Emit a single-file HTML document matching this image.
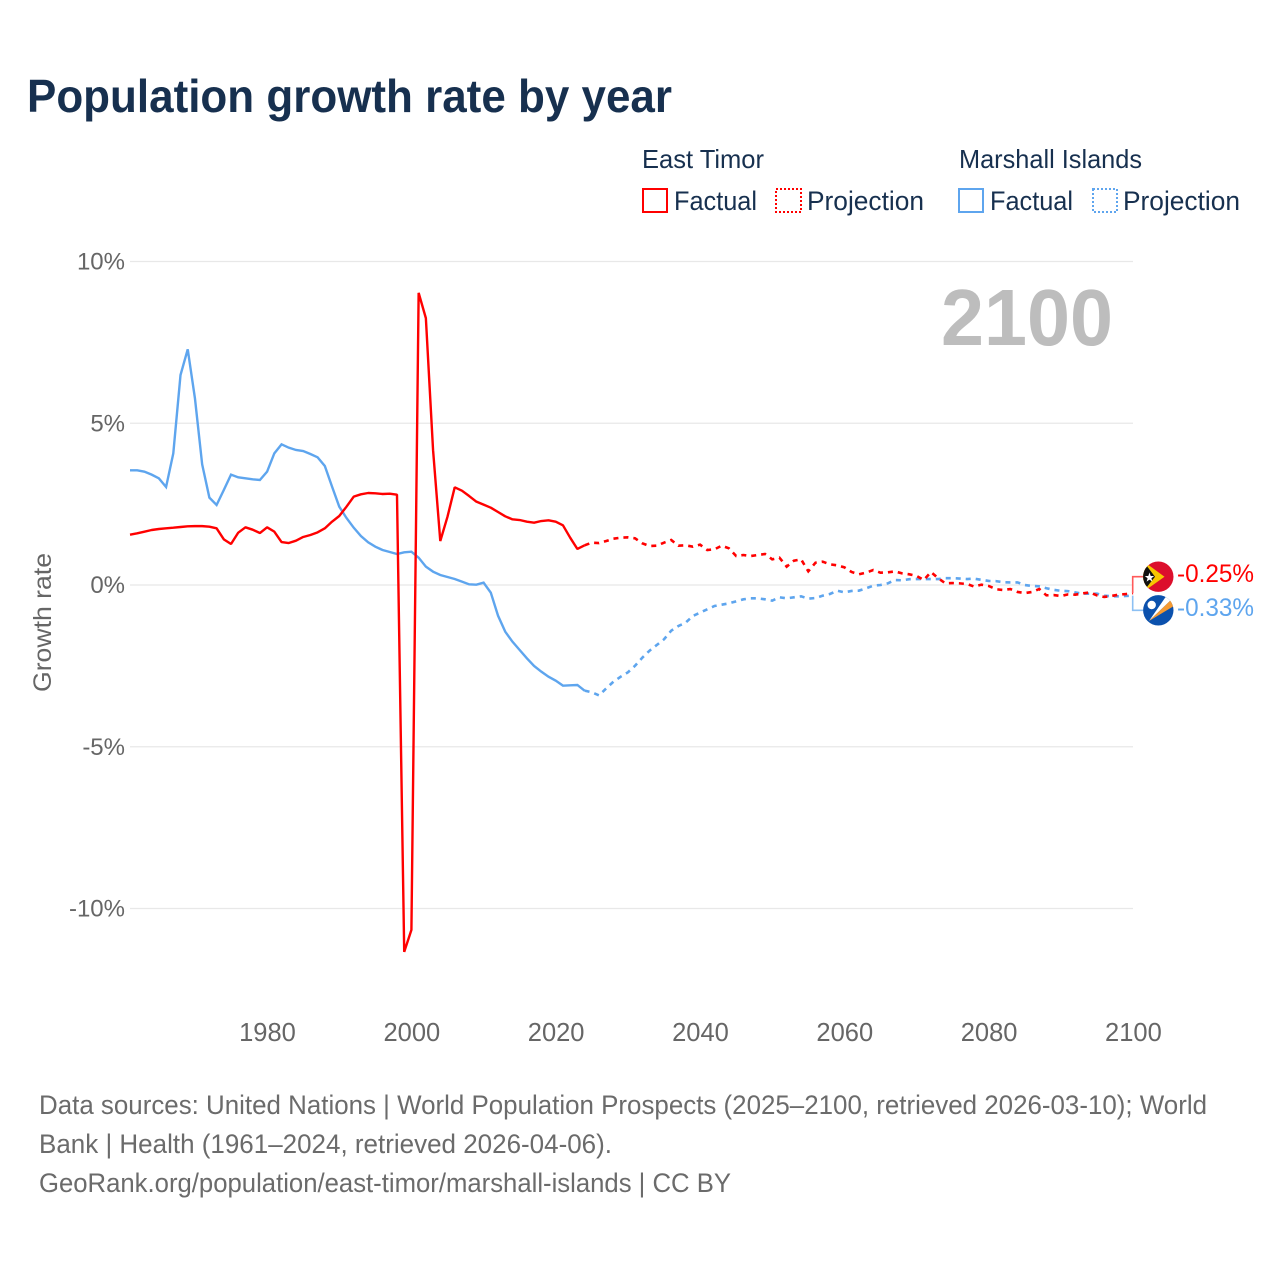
<!DOCTYPE html>
<html lang="en">
<head>
<meta charset="utf-8">
<title>Population growth rate by year</title>
<style>
html,body{margin:0;padding:0;background:#fff;}
svg{display:block;}
text{font-family:"Liberation Sans",sans-serif;}
</style>
</head>
<body>
<svg id="chart" width="1280" height="1280" viewBox="0 0 1280 1280" xmlns="http://www.w3.org/2000/svg">
  <rect x="0" y="0" width="1280" height="1280" fill="#fff"/>
  <text x="27" y="112" font-size="46" font-weight="bold" fill="#17304f" textLength="645" lengthAdjust="spacingAndGlyphs">Population growth rate by year</text>

  <g>
    <text x="642" y="168" font-size="26" fill="#17304f" textLength="122" lengthAdjust="spacingAndGlyphs">East Timor</text>
    <text x="959" y="168" font-size="26" fill="#17304f" textLength="183" lengthAdjust="spacingAndGlyphs">Marshall Islands</text>
    <rect x="643" y="189" width="24" height="23" fill="none" stroke="#ff0000" stroke-width="2"/>
    <text x="674" y="210" font-size="27" fill="#17304f" textLength="83" lengthAdjust="spacingAndGlyphs">Factual</text>
    <rect x="776" y="189" width="25" height="23" fill="none" stroke="#ff0000" stroke-width="2" stroke-dasharray="2 2"/>
    <text x="807" y="210" font-size="27" fill="#17304f" textLength="117" lengthAdjust="spacingAndGlyphs">Projection</text>
    <rect x="959" y="189" width="24" height="23" fill="none" stroke="#5ea5ee" stroke-width="2"/>
    <text x="990" y="210" font-size="27" fill="#17304f" textLength="83" lengthAdjust="spacingAndGlyphs">Factual</text>
    <rect x="1093" y="189" width="24" height="23" fill="none" stroke="#5ea5ee" stroke-width="2" stroke-dasharray="2 2"/>
    <text x="1123" y="210" font-size="27" fill="#17304f" textLength="117" lengthAdjust="spacingAndGlyphs">Projection</text>
  </g>

  <g id="grid"></g>
  <g id="yticks"></g>
  <g id="xticks"></g>
  <text transform="translate(51 692) rotate(-90)" x="0" y="0" font-size="25" fill="#666" textLength="139" lengthAdjust="spacingAndGlyphs">Growth rate</text>
  <text x="941" y="345" font-size="80" font-weight="bold" fill="#bdbdbd" textLength="172" lengthAdjust="spacingAndGlyphs">2100</text>

  <g id="series"></g>

  <defs>
    <clipPath id="clip-timor"><circle cx="1158.3" cy="576.7" r="15.2"/></clipPath>
    <clipPath id="clip-marshall"><circle cx="1158.3" cy="610.3" r="15.2"/></clipPath>
  </defs>
  <g clip-path="url(#clip-timor)">
    <rect x="1143" y="561" width="31" height="31" fill="#dc0f2c"/>
    <polygon points="1143,561 1164.5,576.7 1143,592" fill="#f7c600"/>
    <polygon points="1143,561 1155,576.7 1143,592" fill="#111"/>
    <polygon points="1149.5,572.5 1150.7,576 1154.2,576 1151.4,578.2 1152.4,581.6 1149.5,579.6 1146.6,581.6 1147.6,578.2 1144.8,576 1148.3,576" fill="#fff"/>
  </g>
  <g clip-path="url(#clip-marshall)">
    <rect x="1143" y="595" width="31" height="31" fill="#0b51ad"/>
    <polygon points="1149,621 1167,595 1172,599" fill="#fff"/>
    <polygon points="1149,621 1172,599 1174,606" fill="#f59a32"/>
    <circle cx="1151.7" cy="605" r="4.2" fill="#fff"/>
  </g>
  <g id="end-labels"></g>

  <g>
    <text x="39" y="1114" font-size="26.5" fill="#6b6b6b" textLength="1168" lengthAdjust="spacingAndGlyphs">Data sources: United Nations | World Population Prospects (2025–2100, retrieved 2026-03-10); World</text>
    <text x="39" y="1153" font-size="26.5" fill="#6b6b6b" textLength="573" lengthAdjust="spacingAndGlyphs">Bank | Health (1961–2024, retrieved 2026-04-06).</text>
    <text x="39" y="1192" font-size="26.5" fill="#6b6b6b" textLength="692" lengthAdjust="spacingAndGlyphs">GeoRank.org/population/east-timor/marshall-islands | CC BY</text>
  </g>
</svg>
<script>
const factualStartYear = 1961;
const projectionStartYear = 2024;
const yTickValues = [10, 5, 0, -5, -10];
const yTickLabels = ["10%", "5%", "0%", "-5%", "-10%"];
const xTickValues = [1980, 2000, 2020, 2040, 2060, 2080, 2100];
const xTickLabels = ["1980", "2000", "2020", "2040", "2060", "2080", "2100"];
const timorEndLabel = "-0.25%";
const marshallEndLabel = "-0.33%";

const timorFactual = [1.556,1.597,1.649,1.700,1.731,1.752,1.772,1.793,1.813,1.82,1.82,1.803,1.752,1.412,1.267,1.618,1.783,1.710,1.607,1.783,1.649,1.329,1.298,1.370,1.484,1.546,1.628,1.752,1.958,2.133,2.421,2.731,2.803,2.844,2.834,2.813,2.823,2.792,-11.34,-10.66,9.03,8.25,4.17,1.36,2.112,3.019,2.916,2.751,2.576,2.483,2.390,2.257,2.123,2.030,2.009,1.958,1.927,1.978,1.999,1.958,1.845,1.463,1.113,1.226];
const timorProjection = [1.226,1.309,1.298,1.360,1.432,1.463,1.473,1.443,1.288,1.206,1.216,1.309,1.391,1.216,1.226,1.185,1.247,1.082,1.103,1.216,1.134,0.896,0.927,0.896,0.927,0.958,0.793,0.845,0.567,0.752,0.793,0.423,0.690,0.721,0.639,0.608,0.546,0.402,0.330,0.381,0.464,0.38,0.39,0.42,0.36,0.33,0.28,0.155,0.40,0.21,0.05,0.06,0.05,0.03,-0.05,0.01,-0.03,-0.13,-0.155,-0.125,-0.215,-0.25,-0.215,-0.125,-0.32,-0.31,-0.34,-0.29,-0.30,-0.26,-0.23,-0.32,-0.37,-0.34,-0.30,-0.28,-0.25];
const marshallFactual = [3.545,3.545,3.503,3.411,3.297,3.029,4.070,6.491,7.285,5.770,3.730,2.700,2.473,2.937,3.411,3.328,3.297,3.266,3.246,3.503,4.070,4.348,4.245,4.173,4.142,4.049,3.947,3.679,3.040,2.421,2.071,1.772,1.515,1.319,1.185,1.082,1.020,0.958,1.010,1.030,0.845,0.567,0.412,0.309,0.247,0.185,0.103,0.021,0.010,0.072,-0.237,-0.948,-1.443,-1.752,-2.009,-2.267,-2.504,-2.679,-2.834,-2.957,-3.112,-3.101,-3.091,-3.266];
const marshallProjection = [-3.266,-3.318,-3.411,-3.194,-2.988,-2.834,-2.700,-2.494,-2.246,-2.030,-1.855,-1.680,-1.412,-1.267,-1.164,-0.958,-0.855,-0.752,-0.649,-0.608,-0.567,-0.505,-0.443,-0.412,-0.412,-0.443,-0.484,-0.381,-0.412,-0.381,-0.350,-0.423,-0.402,-0.330,-0.278,-0.175,-0.227,-0.185,-0.175,-0.103,-0.021,0,0.05,0.155,0.145,0.18,0.185,0.185,0.185,0.185,0.21,0.21,0.2,0.185,0.195,0.16,0.125,0.12,0.085,0.08,0.08,0,-0.03,-0.04,-0.1,-0.15,-0.18,-0.19,-0.23,-0.27,-0.27,-0.27,-0.33,-0.35,-0.35,-0.34,-0.33];

const SVG_NS = "http://www.w3.org/2000/svg";
const RED = "#ff0000";
const BLUE = "#5ea5ee";

function xScale(year) {
  return 130 + (year - 1961) * 7.216;
}
function yScale(value) {
  return 585 - value * 32.35;
}
function make(tag, parent, attrs) {
  const el = document.createElementNS(SVG_NS, tag);
  Object.keys(attrs).forEach(function (k) { el.setAttribute(k, attrs[k]); });
  parent.appendChild(el);
  return el;
}
function linePoints(values, startYear) {
  return values.map(function (v, i) {
    return xScale(startYear + i).toFixed(2) + "," + yScale(v).toFixed(2);
  }).join(" ");
}

const gridGroup = document.getElementById("grid");
const yTickGroup = document.getElementById("yticks");
yTickValues.forEach(function (v, i) {
  const line = make("line", gridGroup, {x1: 130, x2: 1133, y1: yScale(v), y2: yScale(v), stroke: "#e8e8e8", "stroke-width": 1.3});
  
  
  const label = make("text", yTickGroup, {x: 125, y: yScale(v) + 8, "text-anchor": "end", "font-size": 24, fill: "#666"});
  label.textContent = yTickLabels[i];
  
  
});

const xTickGroup = document.getElementById("xticks");
xTickValues.forEach(function (year, i) {
  const label = make("text", xTickGroup, {x: xScale(year) + 0.4, y: 1041, "text-anchor": "middle", "font-size": 25.5, fill: "#666"});
  label.textContent = xTickLabels[i];
  
  
});

const seriesGroup = document.getElementById("series");
const marshallFactualLine = make("polyline", seriesGroup, {points: linePoints(marshallFactual, factualStartYear), fill: "none", stroke: BLUE, "stroke-width": 2.4});


const marshallProjectionLine = make("polyline", seriesGroup, {points: linePoints(marshallProjection, projectionStartYear), fill: "none", stroke: BLUE, "stroke-width": 2.6, "stroke-dasharray": "5 5"});


const timorFactualLine = make("polyline", seriesGroup, {points: linePoints(timorFactual, factualStartYear), fill: "none", stroke: RED, "stroke-width": 2.4, "stroke-linejoin": "bevel"});


const timorProjectionLine = make("polyline", seriesGroup, {points: linePoints(timorProjection, projectionStartYear), fill: "none", stroke: RED, "stroke-width": 2.6, "stroke-dasharray": "5 5"});



const endGroup = document.getElementById("end-labels");
const timorLast = timorProjection[timorProjection.length - 1];
const marshallLast = marshallProjection[marshallProjection.length - 1];
const timorConnector = make("polyline", endGroup, {points: "1132.7," + yScale(timorLast) + " 1132.7,576.7 1143,576.7", fill: "none", stroke: "#ff5a5a", "stroke-width": 1.6});


const marshallConnector = make("polyline", endGroup, {points: "1132.7," + yScale(marshallLast) + " 1132.7,610.3 1143,610.3", fill: "none", stroke: "#8cc0f3", "stroke-width": 1.6});


const timorLabel = make("text", endGroup, {x: 1177, y: 582, "font-size": 25, fill: RED, textLength: 77, lengthAdjust: "spacingAndGlyphs"});
timorLabel.textContent = timorEndLabel;


const marshallLabel = make("text", endGroup, {x: 1177, y: 616, "font-size": 25, fill: BLUE, textLength: 77, lengthAdjust: "spacingAndGlyphs"});
marshallLabel.textContent = marshallEndLabel;


</script>
</body>
</html>
